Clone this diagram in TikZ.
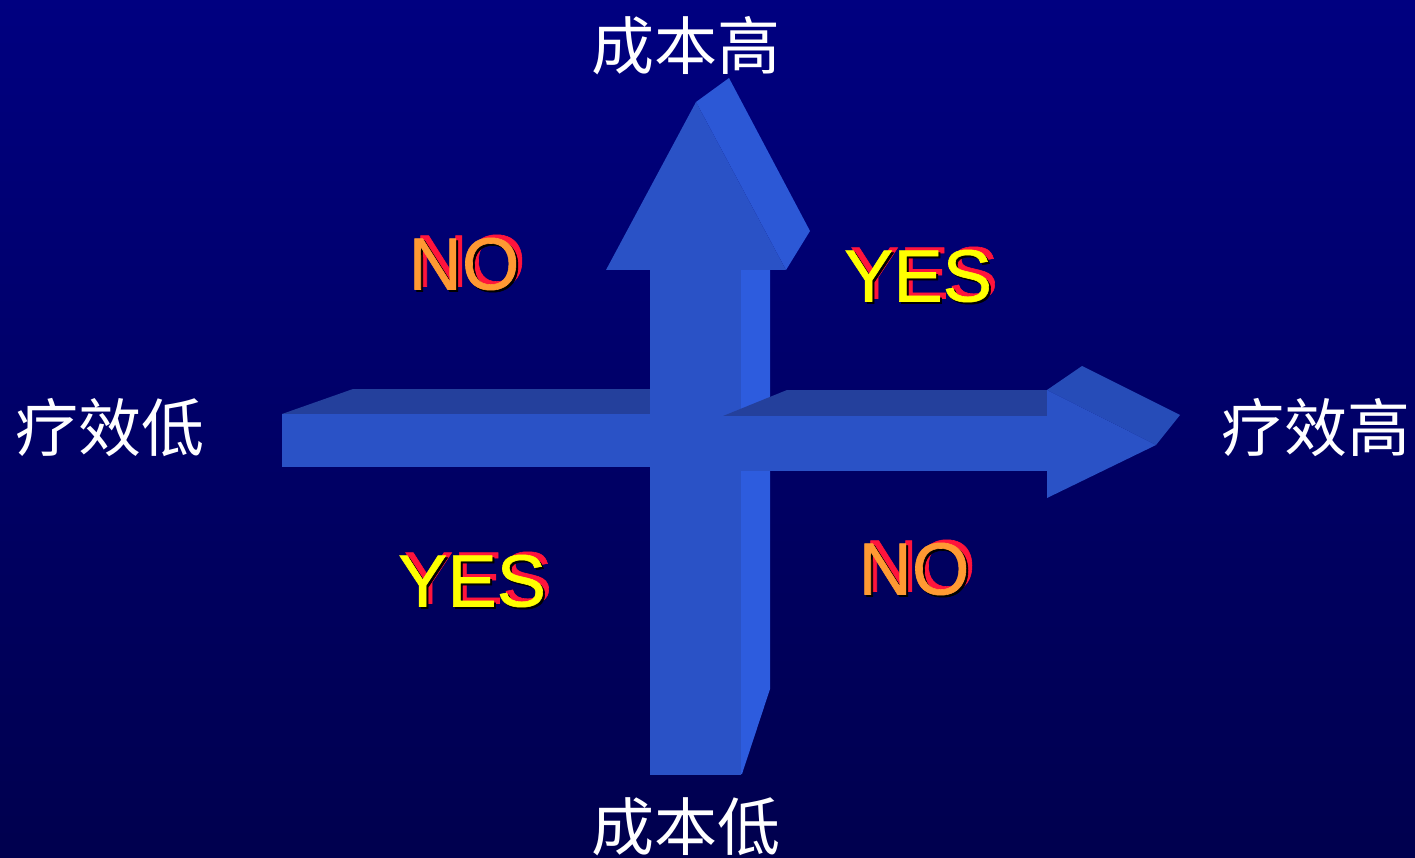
\documentclass[tikz,border=0pt]{standalone}
\usepackage{fontspec}
\newfontfamily\cjk{Noto Sans CJK SC}
\newfontfamily\arialf[FakeBold=0.8]{Liberation Sans}
\definecolor{bgtop}{RGB}{0,0,128}
\definecolor{bgbot}{RGB}{0,0,78}
\definecolor{afront}{RGB}{42,82,198}
\definecolor{aside}{RGB}{45,92,222}
\definecolor{ahside}{RGB}{44,88,214}
\definecolor{atop}{RGB}{36,64,156}
\definecolor{ahtop}{RGB}{38,76,184}
\definecolor{noorange}{RGB}{255,153,51}
\definecolor{yesyellow}{RGB}{255,255,0}
\definecolor{shred}{RGB}{255,20,60}
\tikzset{
  axislabel/.style={text=white,inner sep=0pt,font=\cjk\fontsize{63}{63}\selectfont},
  bigword/.style={inner sep=0pt,font=\arialf\fontsize{74}{74}\selectfont},
  frontface/.style={fill=afront},
  sideface/.style={fill=aside},
  topface/.style={fill=atop},
}
\newcommand{\shadowword}[4]{%
  \node[bigword,text=shred] at ($(#1)+(6,-3)$) {#3};
  \node[bigword,text=black] at ($(#1)+(2,2)$) {#3};
  \node[bigword,text=#4] (#2) at (#1) {#3};}
\usetikzlibrary{calc}
\begin{document}
\begin{tikzpicture}[x=1pt,y=-1pt]
\shade[top color=bgtop,bottom color=bgbot] (0,0) rectangle (1415,858);
\useasboundingbox (0,0) rectangle (1415,858);
% left horizontal arrow (behind)
\fill[topface] (282,414) -- (353,389) -- (652,389) -- (652,414) -- cycle;
\fill[frontface] (282,414) rectangle (652,467);
% vertical arrow
\fill[sideface] (740,270) -- (770,270) -- (770,689) -- (742,774) -- (740,774) -- cycle;
\fill[frontface] (650,270) rectangle (741,775);
\fill[ahside] (696,102) -- (729,78) -- (810,231) -- (786,270) -- cycle;
\fill[frontface] (606,270) -- (696,102) -- (786,270) -- cycle;
% right horizontal arrow (in front)
\fill[topface] (723,416) -- (787,390) -- (1048,390) -- (1048,416) -- cycle;
\fill[frontface] (723,416) rectangle (1048,471);
\fill[ahtop] (1047,390) -- (1082,366) -- (1180,415) -- (1156,445) -- cycle;
\fill[frontface] (1047,390) -- (1156,445) -- (1047,498) -- cycle;
% axis labels
\node[axislabel] (costhigh) at (686,46) {成本高};
\node[axislabel] (costlow) at (686,827) {成本低};
\node[axislabel] (efflow) at (110,428) {疗效低};
\node[axislabel] (effhigh) at (1316,428) {疗效高};
% quadrant words
\coordinate (q1) at (464,264);
\coordinate (q2) at (918,276);
\coordinate (q3) at (472,581);
\coordinate (q4) at (914,569);
\shadowword{q1}{no1}{NO}{noorange}
\shadowword{q2}{yes1}{YES}{yesyellow}
\shadowword{q3}{yes2}{YES}{yesyellow}
\shadowword{q4}{no2}{NO}{noorange}
\end{tikzpicture}
\end{document}
